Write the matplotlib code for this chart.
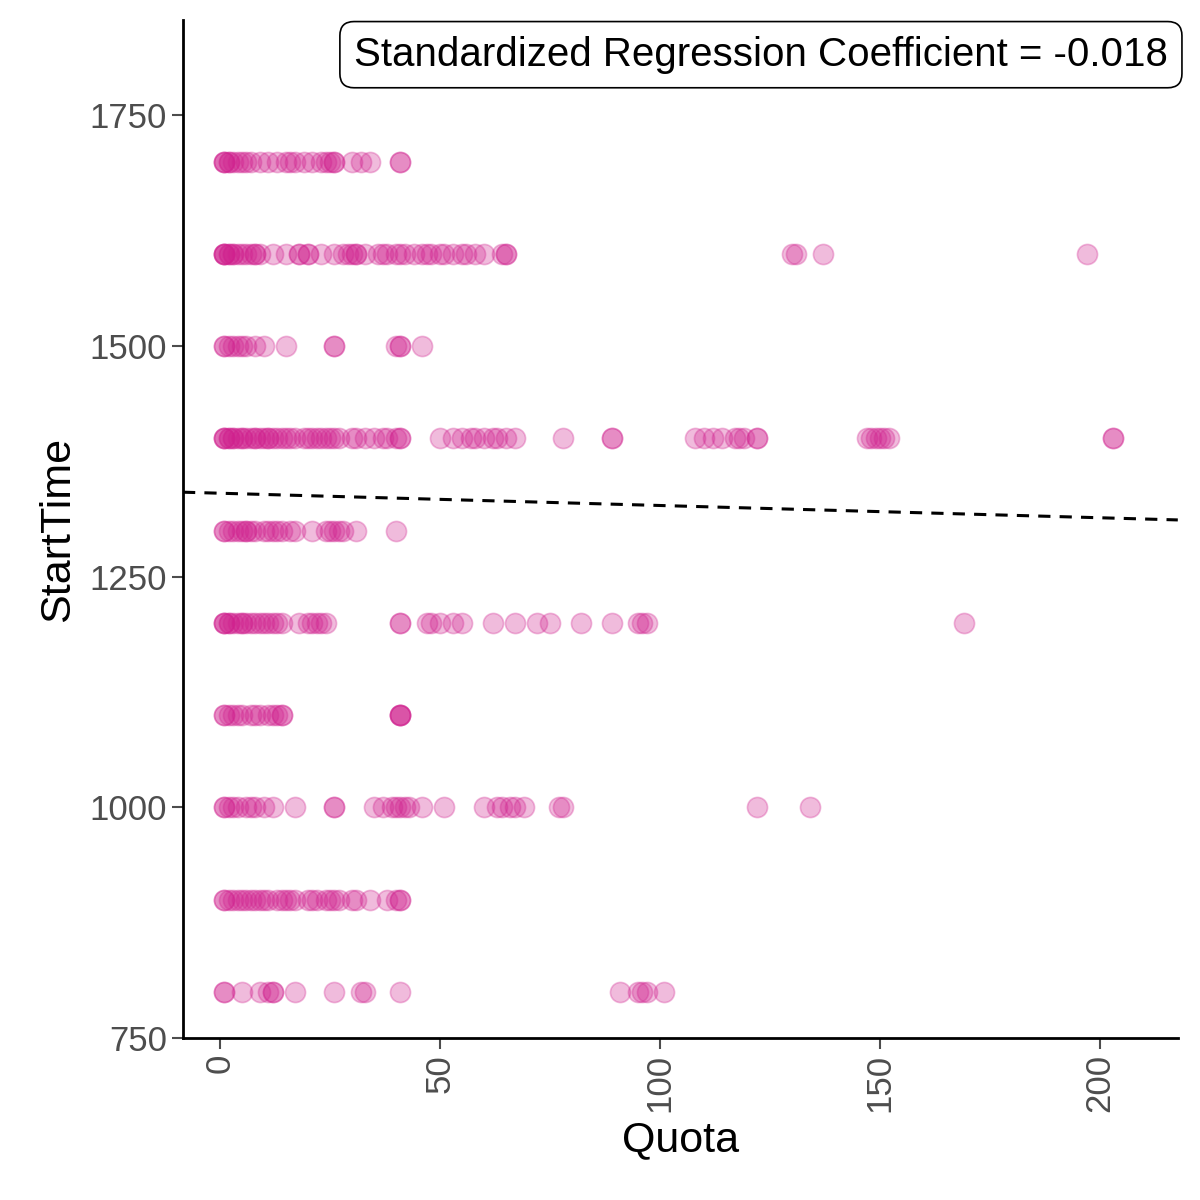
import numpy as np
import matplotlib
matplotlib.use("Agg")
from matplotlib import pyplot as plt

plt.rcParams["font.family"] = ["Liberation Sans", "DejaVu Sans"]

# quota values per start time row
rows = {
    1700: [1, 1, 1, 2, 2, 3, 4, 5, 6, 7, 9, 11, 13, 15, 16, 17, 19, 21, 23, 24, 25, 26, 26,
           30, 32, 34, 41, 41],
    1600: [1, 1, 1, 1, 2, 2, 3, 3, 4, 5, 6, 7, 8, 8, 9, 12, 15, 18, 18, 20, 20, 23, 26, 28,
           29, 30, 31, 31, 33, 36, 37, 38, 40, 41, 42, 44, 46, 47, 48, 50, 51, 53, 55, 56,
           58, 60, 64, 65, 65, 130, 131, 137, 197],
    1500: [1, 1, 2, 3, 4, 5, 6, 8, 10, 15, 26, 26, 40, 41, 41, 46],
    1400: [1, 1, 1, 2, 2, 3, 3, 4, 5, 5, 6, 7, 8, 8, 9, 10, 11, 11, 12, 13, 14, 15, 16, 17,
           19, 20, 21, 22, 23, 24, 25, 26, 27, 30, 31, 33, 35, 37, 38, 40, 41, 41,
           50, 53, 55, 57, 58, 60, 62, 63, 65, 67, 78, 89, 89,
           108, 110, 112, 114, 117, 118, 119, 122, 122,
           147, 148, 149, 150, 151, 152, 203, 203],
    1300: [1, 1, 2, 3, 4, 5, 6, 6, 7, 8, 10, 11, 12, 13, 14, 16, 17, 21, 24, 25, 26, 27,
           28, 31, 40],
    1200: [1, 1, 1, 2, 2, 3, 4, 5, 5, 6, 7, 8, 9, 10, 11, 12, 13, 14, 18, 20, 21, 22, 23, 24,
           41, 41, 47, 48, 50, 53, 55, 62, 67, 72, 75, 82, 89, 95, 96, 97, 169],
    1100: [1, 1, 2, 3, 4, 5, 7, 8, 9, 11, 12, 13, 14, 14, 41, 41, 41, 41],
    1000: [1, 1, 2, 3, 4, 6, 7, 8, 10, 12, 17, 26, 26, 35, 37, 39, 40, 41, 42, 43, 46,
           51, 60, 63, 64, 66, 67, 69, 77, 78, 122, 134],
    900: [1, 1, 2, 3, 4, 5, 6, 7, 8, 9, 10, 11, 13, 14, 15, 16, 17, 20, 21, 22, 24, 25,
          26, 27, 30, 31, 34, 38, 40, 41, 41],
    800: [1, 1, 5, 9, 11, 12, 12, 17, 26, 32, 33, 41, 91, 95, 96, 97, 101],
}
fit_intercept = 1340.5
fit_slope = -0.133
coef_text = "Standardized Regression Coefficient = -0.018"

quota = np.concatenate([rows[k] for k in rows])
start = np.concatenate([[k] * len(rows[k]) for k in rows])

fig = plt.figure(figsize=(12, 12), dpi=100)
ax = fig.add_axes([0.1525, 0.135, 0.829, 0.848])
ax.scatter(quota, start, s=210, color="#D0208E", alpha=0.3, edgecolors="#D0208E",
           linewidths=1.2)
xs = np.array([-8.4, 217.7])
ax.plot(xs, fit_intercept + fit_slope * xs, ls=(0, (4, 3)), color="black", lw=2.2)

ax.set_xlim(-8.4, 217.7)
ax.set_ylim(750, 1853)
ax.set_xticks([0, 50, 100, 150, 200])
ax.set_yticks([750, 1000, 1250, 1500, 1750])
ax.tick_params(axis="x", labelrotation=90)
ax.tick_params(labelsize=25, colors="#4D4D4D", width=1.5, length=8)
for s in ["top", "right"]:
    ax.spines[s].set_visible(False)
for s in ["left", "bottom"]:
    ax.spines[s].set_linewidth(2)
ax.set_xlabel("Quota", fontsize=31, labelpad=6)
ax.set_ylabel("StartTime", fontsize=31, labelpad=8)
ax.text(0.99, 0.985, coef_text, transform=ax.transAxes, ha="right", va="top",
        fontsize=29, bbox=dict(boxstyle="round,pad=0.35", fc="white", ec="black", lw=1.2))

fig.savefig("out.png", dpi=100)
